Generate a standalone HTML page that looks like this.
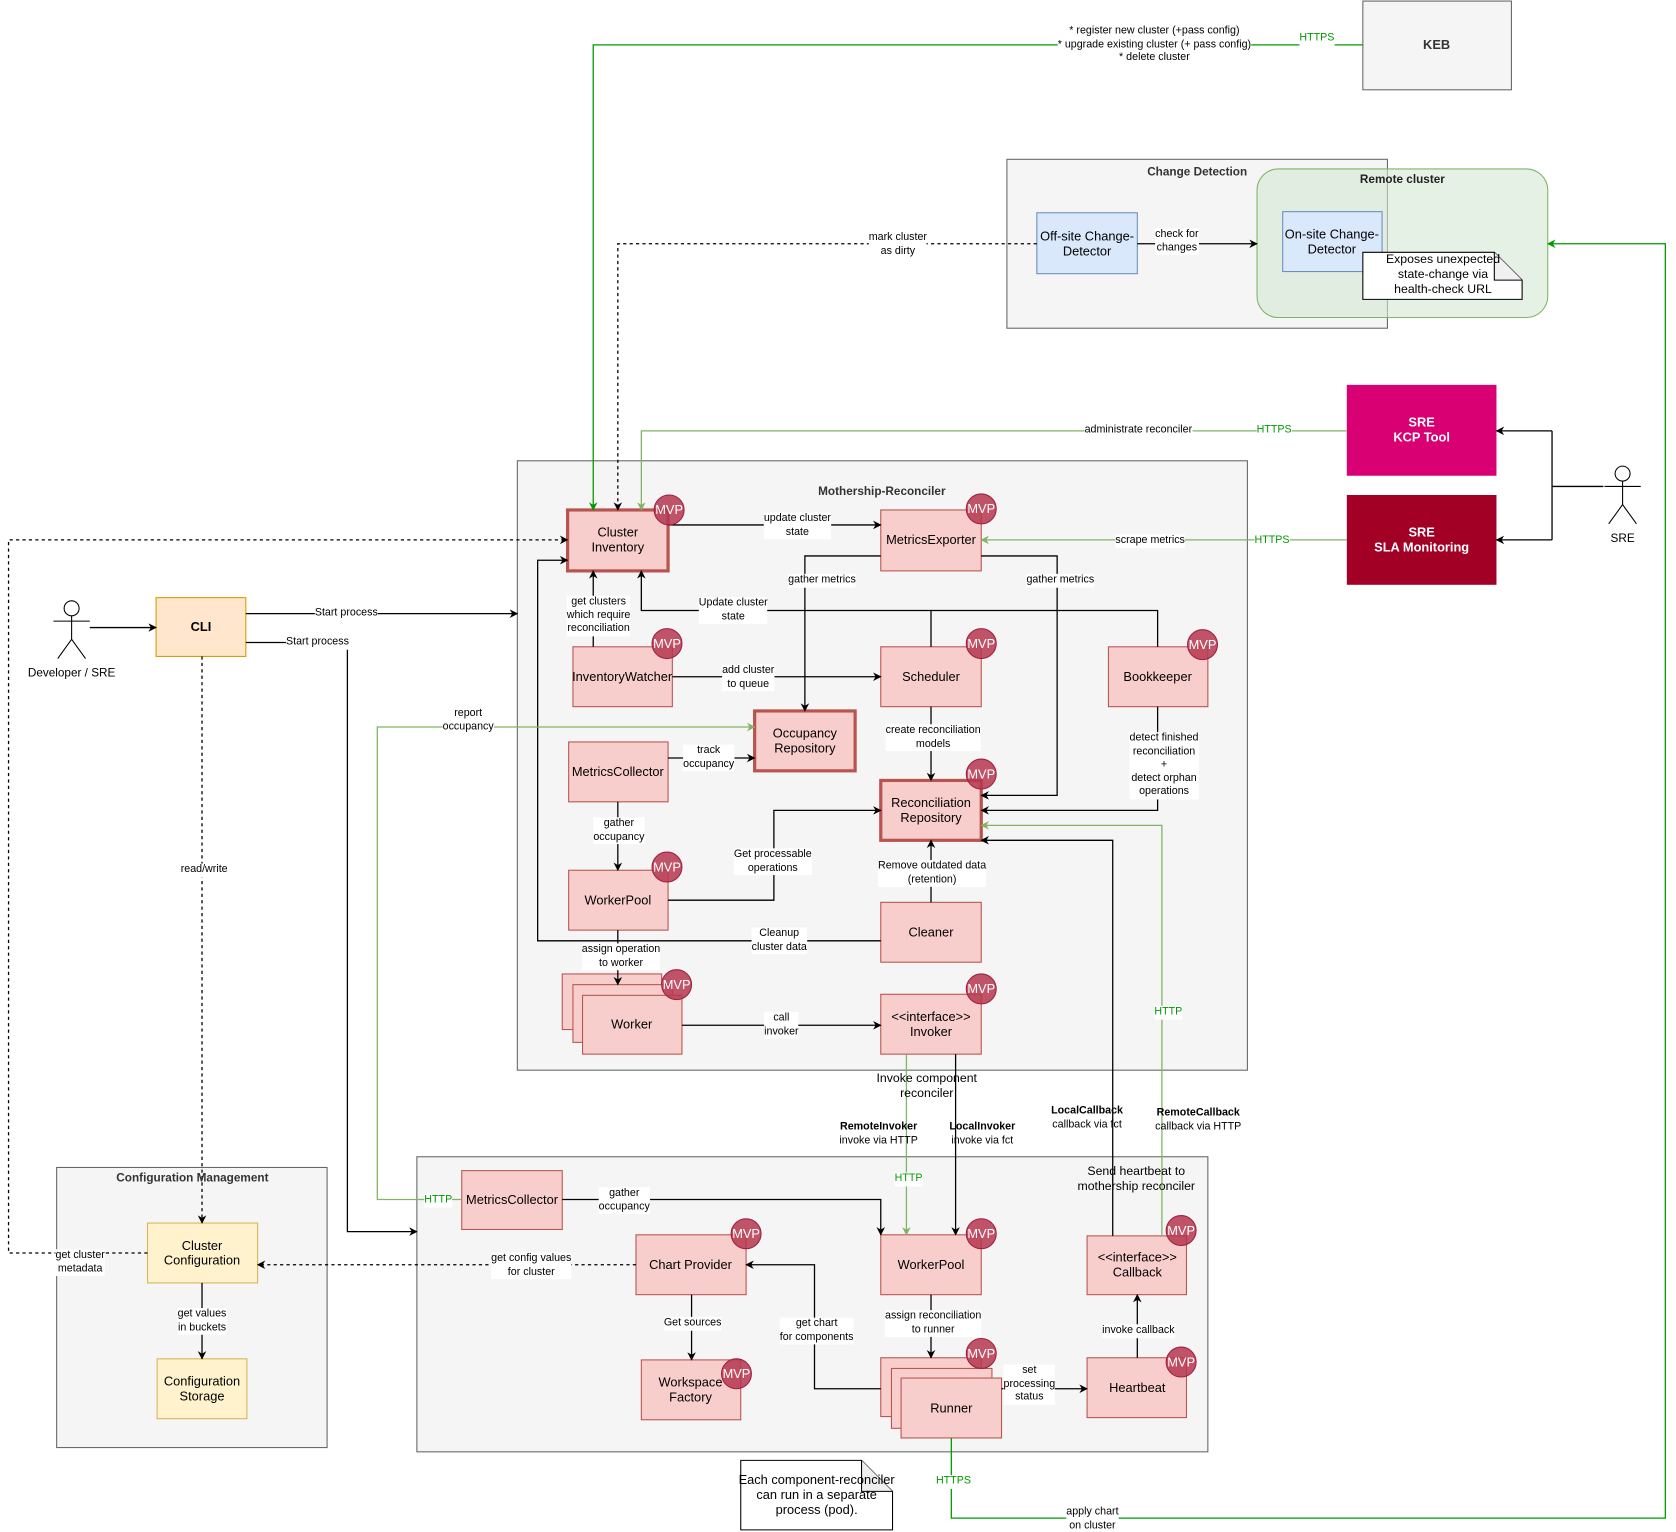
<!DOCTYPE html>
<html><head><meta charset="utf-8">
<style>
html,body{margin:0;padding:0;background:#fff;}
#wrap{position:relative;width:1676px;height:1532px;overflow:hidden;}
#c{position:absolute;left:0;top:0;width:1568px;height:1433px;transform:scale(1.0689,1.0691);transform-origin:0 0;font-family:"Liberation Sans",Arial,sans-serif;}
svg{position:absolute;left:0;top:0;}
.t{position:absolute;transform:translate(-50%,-50%);text-align:center;white-space:nowrap;font-size:12px;line-height:14px;color:#000;}
.l{position:absolute;transform:translate(-50%,-50%);text-align:center;white-space:nowrap;font-size:10px;line-height:12.5px;color:#000;background:#fff;}
.nb{background:none;}
.g{color:#009900;}
.b{font-weight:bold;}
.h{position:absolute;transform:translate(-50%,-50%);white-space:nowrap;font-size:11px;font-weight:bold;color:#333;}
.m{position:absolute;transform:translate(-50%,-50%);font-size:12px;color:#fff;}
</style></head><body><div id="wrap"><div id="c">
<svg width="1568" height="1433" viewBox="0 0 1568 1433">
<defs>
<marker id="a" viewBox="0 0 10 10" refX="9" refY="5" markerWidth="8" markerHeight="8" orient="auto" markerUnits="userSpaceOnUse"><path d="M0,0 L10,5 L0,10 L3,5z" fill="#000"/></marker>
<marker id="ag" viewBox="0 0 10 10" refX="9" refY="5" markerWidth="8" markerHeight="8" orient="auto" markerUnits="userSpaceOnUse"><path d="M0,0 L10,5 L0,10 L3,5z" fill="#009900"/></marker>
<marker id="al" viewBox="0 0 10 10" refX="9" refY="5" markerWidth="8" markerHeight="8" orient="auto" markerUnits="userSpaceOnUse"><path d="M0,0 L10,5 L0,10 L3,5z" fill="#82b366"/></marker>
</defs>
<!-- containers -->
<rect x="1275" y="1" width="139" height="83" fill="#f5f5f5" stroke="#666"/>
<rect x="942" y="149" width="356" height="158" fill="#f5f5f5" stroke="#666"/>
<rect x="1176" y="158" width="272" height="139" rx="20" fill="#d5e8d4" fill-opacity="0.6" stroke="#82b366"/>
<rect x="484" y="431" width="683" height="570" fill="#f5f5f5" stroke="#666"/>
<rect x="390" y="1082" width="740" height="276" fill="#f5f5f5" stroke="#666"/>
<rect x="53" y="1092" width="253" height="262" fill="#f5f5f5" stroke="#666"/>
<!-- change detection nodes -->
<rect x="970" y="199" width="94" height="57" fill="#dae8fc" stroke="#6c8ebf"/>
<rect x="1200" y="198" width="93" height="56" fill="#dae8fc" stroke="#6c8ebf"/>
<path d="M1275,236 H1398 L1424,262 V280 H1275Z" fill="#fff" stroke="#000"/>
<path d="M1398,236 V262 H1424" fill="#f0f0f0" stroke="#000"/>
<!-- SRE boxes -->
<rect x="1260" y="360" width="140" height="85" fill="#d80073"/>
<rect x="1260" y="463" width="140" height="84" fill="#a20025"/>
<!-- actors -->
<g stroke="#000" fill="#fff" stroke-width="1">
<circle cx="1518" cy="443" r="7"/><path d="M1518,450 V472 M1501,455 H1535 M1518,472 L1505,490 M1518,472 L1531,490" fill="none"/>
<circle cx="67" cy="569" r="7"/><path d="M67,576 V598 M50,581 H84 M67,598 L54,616 M67,598 L80,616" fill="none"/>
</g>
<!-- CLI and config -->
<rect x="146" y="559" width="84" height="55" fill="#ffe6cc" stroke="#d79b00"/>
<rect x="138" y="1144" width="103" height="56" fill="#fff2cc" stroke="#d6b656"/>
<rect x="147" y="1271" width="84" height="56" fill="#fff2cc" stroke="#d6b656"/>
<!-- red nodes -->
<g fill="#f8cecc" stroke="#b85450">
<rect x="531" y="477" width="94" height="57" stroke-width="3"/>
<rect x="824" y="477" width="94" height="57"/>
<rect x="536" y="605" width="93" height="56"/>
<rect x="824" y="605" width="94" height="56"/>
<rect x="1037" y="605" width="93" height="56"/>
<rect x="706" y="665" width="94" height="56" stroke-width="3"/>
<rect x="532" y="694" width="93" height="56"/>
<rect x="824" y="730" width="94" height="56" stroke-width="3"/>
<rect x="532" y="814" width="93" height="56"/>
<rect x="824" y="844" width="94" height="56"/>
<rect x="526" y="911" width="93" height="52"/>
<rect x="536" y="921" width="93" height="54"/>
<rect x="545" y="931" width="93" height="55"/>
<rect x="824" y="930" width="94" height="56"/>
<rect x="432" y="1095" width="94" height="55"/>
<rect x="824" y="1155" width="94" height="56"/>
<rect x="595" y="1155" width="103" height="56"/>
<rect x="600" y="1272" width="93" height="56"/>
<rect x="824" y="1270" width="94" height="55"/>
<rect x="834" y="1280" width="94" height="56"/>
<rect x="843" y="1289" width="94" height="56"/>
<rect x="1017" y="1270" width="93" height="56"/>
<rect x="1017" y="1156" width="93" height="55"/>
</g>
<!-- note bottom -->
<path d="M693,1366 H806 L835,1395 V1431 H693Z" fill="#fff" stroke="#000"/>
<path d="M806,1366 V1395 H835" fill="#eee" stroke="#000"/>
<!-- connectors -->
<g fill="none" stroke="#000" stroke-width="1.2">
<path d="M1275,42 H555 V477" stroke="#009900" marker-end="url(#ag)"/>
<path d="M970,228 H578 V477" stroke-dasharray="3,3" marker-end="url(#a)"/>
<path d="M1064,228 L1176,228" marker-end="url(#a)"/>
<path d="M890,1345 V1420 H1558 V228 H1448" stroke="#009900" marker-end="url(#ag)"/>
<path d="M1500,455 H1452 M1452,403 V505 M1452,403 H1400" marker-end="url(#a)"/>
<path d="M1452,505 H1400" marker-end="url(#a)"/>
<path d="M1260,403 H600 V477" stroke="#82b366" marker-end="url(#al)"/>
<path d="M1260,505 H918" stroke="#82b366" marker-end="url(#al)"/>
<path d="M625,491 H824" marker-end="url(#a)"/>
<path d="M555,605 V534" marker-end="url(#a)"/>
<path d="M629,633 H824" marker-end="url(#a)"/>
<path d="M871,605 V571 H600 V534" marker-end="url(#a)"/>
<path d="M1083,605 V571 H871"/>
<path d="M824,520 H753 V665" marker-end="url(#a)"/>
<path d="M918,520 H989 V744 H918" marker-end="url(#a)"/>
<path d="M625,709 H706" marker-end="url(#a)"/>
<path d="M871,661 V730" marker-end="url(#a)"/>
<path d="M1083,661 V758 H918" marker-end="url(#a)"/>
<path d="M578,750 V814" marker-end="url(#a)"/>
<path d="M625,842 H724 V758 H824" marker-end="url(#a)"/>
<path d="M871,844 V786" marker-end="url(#a)"/>
<path d="M824,880 H503 V524 H531" marker-end="url(#a)"/>
<path d="M578,870 V921" marker-end="url(#a)"/>
<path d="M638,959 H824" marker-end="url(#a)"/>
<path d="M848,986 V1155" stroke="#82b366" marker-end="url(#al)"/>
<path d="M894,986 V1155" marker-end="url(#a)"/>
<path d="M138,1172 H8 V505 H531" stroke-dasharray="3,3" marker-end="url(#a)"/>
<path d="M84,587 H146" marker-end="url(#a)"/>
<path d="M230,574 H484" marker-end="url(#a)"/>
<path d="M230,601 H325 V1152 H390" marker-end="url(#a)"/>
<path d="M189,614 V1144" stroke-dasharray="3,3" marker-end="url(#a)"/>
<path d="M189,1200 V1271" marker-end="url(#a)"/>
<path d="M432,1122 H353 V680 H706" stroke="#82b366" marker-end="url(#al)"/>
<path d="M526,1122 H824 V1155" marker-end="url(#a)"/>
<path d="M595,1183 H241" stroke-dasharray="3,3" marker-end="url(#a)"/>
<path d="M647,1211 V1272" marker-end="url(#a)"/>
<path d="M871,1211 V1270" marker-end="url(#a)"/>
<path d="M824,1299 H762 V1183 H698" marker-end="url(#a)"/>
<path d="M937,1299 H1017" marker-end="url(#a)"/>
<path d="M1064,1270 V1211" marker-end="url(#a)"/>
<path d="M1041,1156 V786 H918" marker-end="url(#a)"/>
<path d="M1087,1156 V772 H918" stroke="#82b366" marker-end="url(#al)"/>
</g>
<!-- MVP circles -->
<g fill="#b5364f" fill-opacity="0.85" stroke="#a02040">
<circle cx="626" cy="477" r="14"/><circle cx="918" cy="476" r="14"/>
<circle cx="624" cy="602" r="14"/><circle cx="918" cy="602" r="14"/><circle cx="1125" cy="603" r="14"/>
<circle cx="918" cy="724" r="14"/><circle cx="624" cy="811" r="14"/><circle cx="633" cy="921" r="14"/>
<circle cx="918" cy="925" r="14"/><circle cx="918" cy="1154" r="14"/><circle cx="698" cy="1154" r="14"/>
<circle cx="689" cy="1285" r="14"/><circle cx="918" cy="1266" r="14"/><circle cx="1105" cy="1274" r="14"/>
<circle cx="1105" cy="1151" r="14"/>
</g>
</svg>
<!-- MVP text -->
<div class="m" style="left:626px;top:477px">MVP</div><div class="m" style="left:918px;top:476px">MVP</div>
<div class="m" style="left:624px;top:602px">MVP</div><div class="m" style="left:918px;top:602px">MVP</div><div class="m" style="left:1125px;top:603px">MVP</div>
<div class="m" style="left:918px;top:724px">MVP</div><div class="m" style="left:624px;top:811px">MVP</div><div class="m" style="left:633px;top:921px">MVP</div>
<div class="m" style="left:918px;top:925px">MVP</div><div class="m" style="left:918px;top:1154px">MVP</div><div class="m" style="left:698px;top:1154px">MVP</div>
<div class="m" style="left:689px;top:1285px">MVP</div><div class="m" style="left:918px;top:1266px">MVP</div><div class="m" style="left:1105px;top:1274px">MVP</div>
<div class="m" style="left:1105px;top:1151px">MVP</div>
<!-- titles -->
<div class="h" style="left:1344px;top:42px;font-size:12px">KEB</div>
<div class="h" style="left:1120px;top:161px">Change Detection</div>
<div class="h" style="left:1312px;top:168px;color:#222">Remote cluster</div>
<div class="h" style="left:825px;top:460px">Mothership-Reconciler</div>
<div class="h" style="left:180px;top:1102px">Configuration Management</div>
<!-- node texts -->
<div class="t" style="left:1017px;top:228px">Off-site Change-<br>Detector</div>
<div class="t" style="left:1246px;top:226px">On-site Change-<br>Detector</div>
<div class="t" style="left:1350px;top:257px;font-size:11.5px">Exposes unexpected<br>state-change via<br>health-check URL</div>
<div class="t b" style="left:1330px;top:402px;color:#fff">SRE<br>KCP Tool</div>
<div class="t b" style="left:1330px;top:505px;color:#fff">SRE<br>SLA Monitoring</div>
<div class="t" style="left:1518px;top:504px;font-size:11px">SRE</div>
<div class="t" style="left:67px;top:630px;font-size:11px">Developer / SRE</div>
<div class="t b" style="left:188px;top:586px">CLI</div>
<div class="t" style="left:189px;top:1172px">Cluster<br>Configuration</div>
<div class="t" style="left:189px;top:1299px">Configuration<br>Storage</div>
<div class="t" style="left:578px;top:505px">Cluster<br>Inventory</div>
<div class="t" style="left:871px;top:505px">MetricsExporter</div>
<div class="t" style="left:582px;top:633px">InventoryWatcher</div>
<div class="t" style="left:871px;top:633px">Scheduler</div>
<div class="t" style="left:1083px;top:633px">Bookkeeper</div>
<div class="t" style="left:753px;top:693px">Occupancy<br>Repository</div>
<div class="t" style="left:578px;top:722px">MetricsCollector</div>
<div class="t" style="left:871px;top:758px">Reconciliation<br>Repository</div>
<div class="t" style="left:578px;top:842px">WorkerPool</div>
<div class="t" style="left:871px;top:872px">Cleaner</div>
<div class="t" style="left:591px;top:958px">Worker</div>
<div class="t" style="left:871px;top:958px">&lt;&lt;interface&gt;&gt;<br>Invoker</div>
<div class="t" style="left:479px;top:1122px">MetricsCollector</div>
<div class="t" style="left:871px;top:1183px">WorkerPool</div>
<div class="t" style="left:646px;top:1183px">Chart Provider</div>
<div class="t" style="left:646px;top:1300px">Workspace<br>Factory</div>
<div class="t" style="left:890px;top:1317px">Runner</div>
<div class="t" style="left:1064px;top:1298px">Heartbeat</div>
<div class="t" style="left:1064px;top:1183px">&lt;&lt;interface&gt;&gt;<br>Callback</div>
<div class="t" style="left:764px;top:1398px">Each component-reconciler<br>can run in a separate<br>process (pod).</div>
<!-- edge labels -->
<div class="l" style="left:1080px;top:42px">* register new cluster (+pass config)<br>* upgrade existing cluster (+ pass config)<br>* delete cluster</div>
<div class="l g" style="left:1232px;top:36px">HTTPS</div>
<div class="l" style="left:840px;top:229px">mark cluster<br>as dirty</div>
<div class="l" style="left:1101px;top:226px">check for<br>changes</div>
<div class="l" style="left:1065px;top:403px">administrate reconciler</div>
<div class="l g" style="left:1192px;top:403px">HTTPS</div>
<div class="l" style="left:1076px;top:506px">scrape metrics</div>
<div class="l g" style="left:1190px;top:506px">HTTPS</div>
<div class="l" style="left:746px;top:492px">update cluster<br>state</div>
<div class="l" style="left:560px;top:576px">get clusters<br>which require<br>reconciliation</div>
<div class="l" style="left:686px;top:571px">Update cluster<br>state</div>
<div class="l" style="left:769px;top:543px">gather metrics</div>
<div class="l" style="left:992px;top:543px">gather metrics</div>
<div class="l" style="left:700px;top:634px">add cluster<br>to queue</div>
<div class="l" style="left:663px;top:709px">track<br>occupancy</div>
<div class="l" style="left:873px;top:690px">create reconciliation<br>models</div>
<div class="l" style="left:1089px;top:716px">detect finished<br>reconciliation<br>+<br>detect orphan<br>operations</div>
<div class="l" style="left:579px;top:777px">gather<br>occupancy</div>
<div class="l" style="left:723px;top:806px">Get processable<br>operations</div>
<div class="l" style="left:872px;top:817px">Remove outdated data<br>(retention)</div>
<div class="l" style="left:729px;top:880px">Cleanup<br>cluster data</div>
<div class="l" style="left:581px;top:895px">assign operation<br>to worker</div>
<div class="l" style="left:731px;top:959px">call<br>invoker</div>
<div class="l" style="left:438px;top:674px">report<br>occupancy</div>
<div class="l" style="left:191px;top:814px">read/write</div>
<div class="l" style="left:324px;top:574px">Start process</div>
<div class="l" style="left:297px;top:601px">Start process</div>
<div class="l" style="left:75px;top:1181px">get cluster<br>metadata</div>
<div class="l" style="left:189px;top:1236px">get values<br>in buckets</div>
<div class="l g" style="left:410px;top:1123px">HTTP</div>
<div class="l" style="left:584px;top:1123px">gather<br>occupancy</div>
<div class="l" style="left:497px;top:1184px">get config values<br>for cluster</div>
<div class="l" style="left:648px;top:1238px">Get sources</div>
<div class="l" style="left:764px;top:1245px">get chart<br>for components</div>
<div class="l" style="left:873px;top:1238px">assign reconciliation<br>to runner</div>
<div class="l" style="left:963px;top:1295px">set<br>processing<br>status</div>
<div class="l" style="left:1065px;top:1245px">invoke callback</div>
<div class="l nb" style="left:867px;top:1016px;font-size:11.5px;line-height:14px">Invoke component<br>reconciler</div>
<div class="l nb" style="left:822px;top:1061px"><b>RemoteInvoker</b><br>invoke via HTTP</div>
<div class="l nb" style="left:919px;top:1061px"><b>LocalInvoker</b><br>invoke via fct</div>
<div class="l g" style="left:850px;top:1103px">HTTP</div>
<div class="l nb" style="left:1017px;top:1046px"><b>LocalCallback</b><br>callback via fct</div>
<div class="l nb" style="left:1121px;top:1048px"><b>RemoteCallback</b><br>callback via HTTP</div>
<div class="l g" style="left:1093px;top:947px">HTTP</div>
<div class="l nb" style="left:1063px;top:1103px;font-size:11.5px;line-height:14px">Send heartbeat to<br>mothership reconciler</div>
<div class="l g" style="left:892px;top:1386px">HTTPS</div>
<div class="l" style="left:1022px;top:1421px">apply chart<br>on cluster</div>
</div></div></body></html>
